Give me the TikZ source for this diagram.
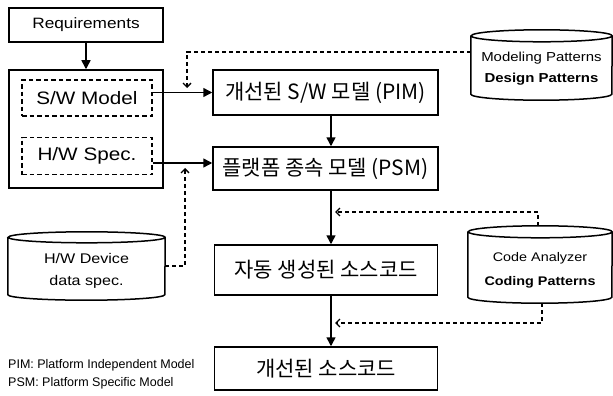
\documentclass[tikz,border=0pt]{standalone}
\usepackage{fontspec}
\setmainfont{Liberation Sans}[FakeStretch=1.15]
\newfontfamily\plainsans{Liberation Sans}
\newfontfamily\kr{Noto Sans CJK KR}
\usetikzlibrary{arrows.meta}

\tikzset{
  box/.style={draw, line width=1.5pt, rectangle, inner sep=0pt},
  subbox/.style={draw, line width=1.4pt, dash pattern=on 4.5pt off 3pt, rectangle, inner sep=0pt},
  krlabel/.style={font=\kr\fontsize{21}{25}\selectfont},
  cylbox/.style={rectangle, inner sep=0pt},
  cyl/.style={line width=1.5pt},
  cyltext/.style={align=center, inner sep=0pt},
  flow/.style={line width=1.5pt, -{Triangle[length=9pt,width=9pt]}},
  feed/.style={line width=1.4pt, dash pattern=on 4pt off 3pt, -{Straight Barb[length=4pt,width=8pt]}},
}

\begin{document}
\begin{tikzpicture}[x=1pt, y=-1pt]
\useasboundingbox (0,0) rectangle (613,396);

% left column: requirements and the S/W + H/W specification
\node[box, minimum width=154pt, minimum height=34pt, font=\fontsize{15}{18}\selectfont] (req) at (86,25) {Requirements};
\node[box, minimum width=154pt, minimum height=118pt] (spec) at (86,129) {};
\node[subbox, minimum width=130pt, minimum height=36pt, font=\fontsize{18}{21}\selectfont] (sw) at (87,98) {S/W Model};
\node[subbox, minimum width=130pt, minimum height=37pt, font=\fontsize{18}{21}\selectfont] (hw) at (87,156) {H/W Spec.};

% main transformation chain
\node[box, krlabel, minimum width=225pt, minimum height=45pt] (pim) at (325.5,92.5) {개선된 S/W 모델 (PIM)};
\node[box, krlabel, minimum width=225pt, minimum height=43pt] (psm) at (325.5,168.5) {플랫폼 종속 모델 (PSM)};
\node[box, krlabel, minimum width=223pt, minimum height=50pt] (gen) at (326,270) {자동 생성된 소스코드};
\node[box, krlabel, minimum width=223pt, minimum height=43pt] (final) at (326,368.5) {개선된 소스코드};

% pattern repositories (cylinders)
\node[cylbox, minimum width=141pt, minimum height=70pt] (mp) at (541.5,65) {};
\draw[cyl] ([yshift=-6pt]mp.north west) -- ([yshift=6pt]mp.south west)
  arc[start angle=180, end angle=360, x radius=70.5pt, y radius=6pt]
  -- ([yshift=-6pt]mp.north east)
  arc[start angle=0, end angle=180, x radius=70.5pt, y radius=6pt]
  arc[start angle=180, end angle=360, x radius=70.5pt, y radius=6pt];
\node[cyltext, font=\fontsize{13}{21}\selectfont] (mptext) at ([yshift=-4pt]mp.center) {Modeling Patterns\\\textbf{Design Patterns}};

\node[cylbox, minimum width=157pt, minimum height=68pt] (hwd) at (86.5,266) {};
\draw[cyl] ([yshift=-5.5pt]hwd.north west) -- ([yshift=5.5pt]hwd.south west)
  arc[start angle=180, end angle=360, x radius=78.5pt, y radius=5.5pt]
  -- ([yshift=-5.5pt]hwd.north east)
  arc[start angle=0, end angle=180, x radius=78.5pt, y radius=5.5pt]
  arc[start angle=180, end angle=360, x radius=78.5pt, y radius=5.5pt];
\node[cyltext, font=\fontsize{14}{22}\selectfont] (hwdtext) at ([yshift=-5pt]hwd.center) {H/W Device\\data spec.};

\node[cylbox, minimum width=144pt, minimum height=77pt] (ca) at (540,264.5) {};
\draw[cyl] ([yshift=-6pt]ca.north west) -- ([yshift=6pt]ca.south west)
  arc[start angle=180, end angle=360, x radius=72pt, y radius=6pt]
  -- ([yshift=-6pt]ca.north east)
  arc[start angle=0, end angle=180, x radius=72pt, y radius=6pt]
  arc[start angle=180, end angle=360, x radius=72pt, y radius=6pt];
\node[cyltext, font=\fontsize{12.5}{24}\selectfont] (catext) at ([yshift=-5.5pt]ca.center) {Code Analyzer\\\textbf{Coding Patterns}};

% legend
\node[align=left, anchor=west, inner sep=0pt, font=\plainsans\fontsize{12.5}{18}\selectfont] (legend) at (8,374)
  {PIM: Platform Independent Model\\PSM: Platform Specific Model};

% solid flow
\draw[flow] (req) -- (spec);
\draw[flow] (sw.east |- pim.west) -- (pim.west);
\draw[flow] ([yshift=-7pt]hw.east) -- ([yshift=-7pt]hw.east -| psm.west);
\draw[flow] ([xshift=5.5pt]pim.south) -- ([xshift=5.5pt]pim.south |- psm.north);
\draw[flow] ([xshift=5.5pt]psm.south) -- ([xshift=5.5pt]psm.south |- gen.north);
\draw[flow] ([xshift=5pt]gen.south) -- ([xshift=5pt]gen.south |- final.north);

% dashed feedback from the repositories
\coordinate (mpin) at (187,88);
\coordinate (hwin) at (185,168);
\coordinate (cain) at (335,212);
\coordinate (caout) at (335,323);
\draw[feed] ([yshift=13pt]mp.west) -| (mpin);
\draw[feed] (hwd.east) -| (hwin);
\draw[feed] ([xshift=-2pt]ca.north) |- (cain);
\draw[feed] ([xshift=2pt]ca.south) |- (caout);
\end{tikzpicture}
\end{document}
